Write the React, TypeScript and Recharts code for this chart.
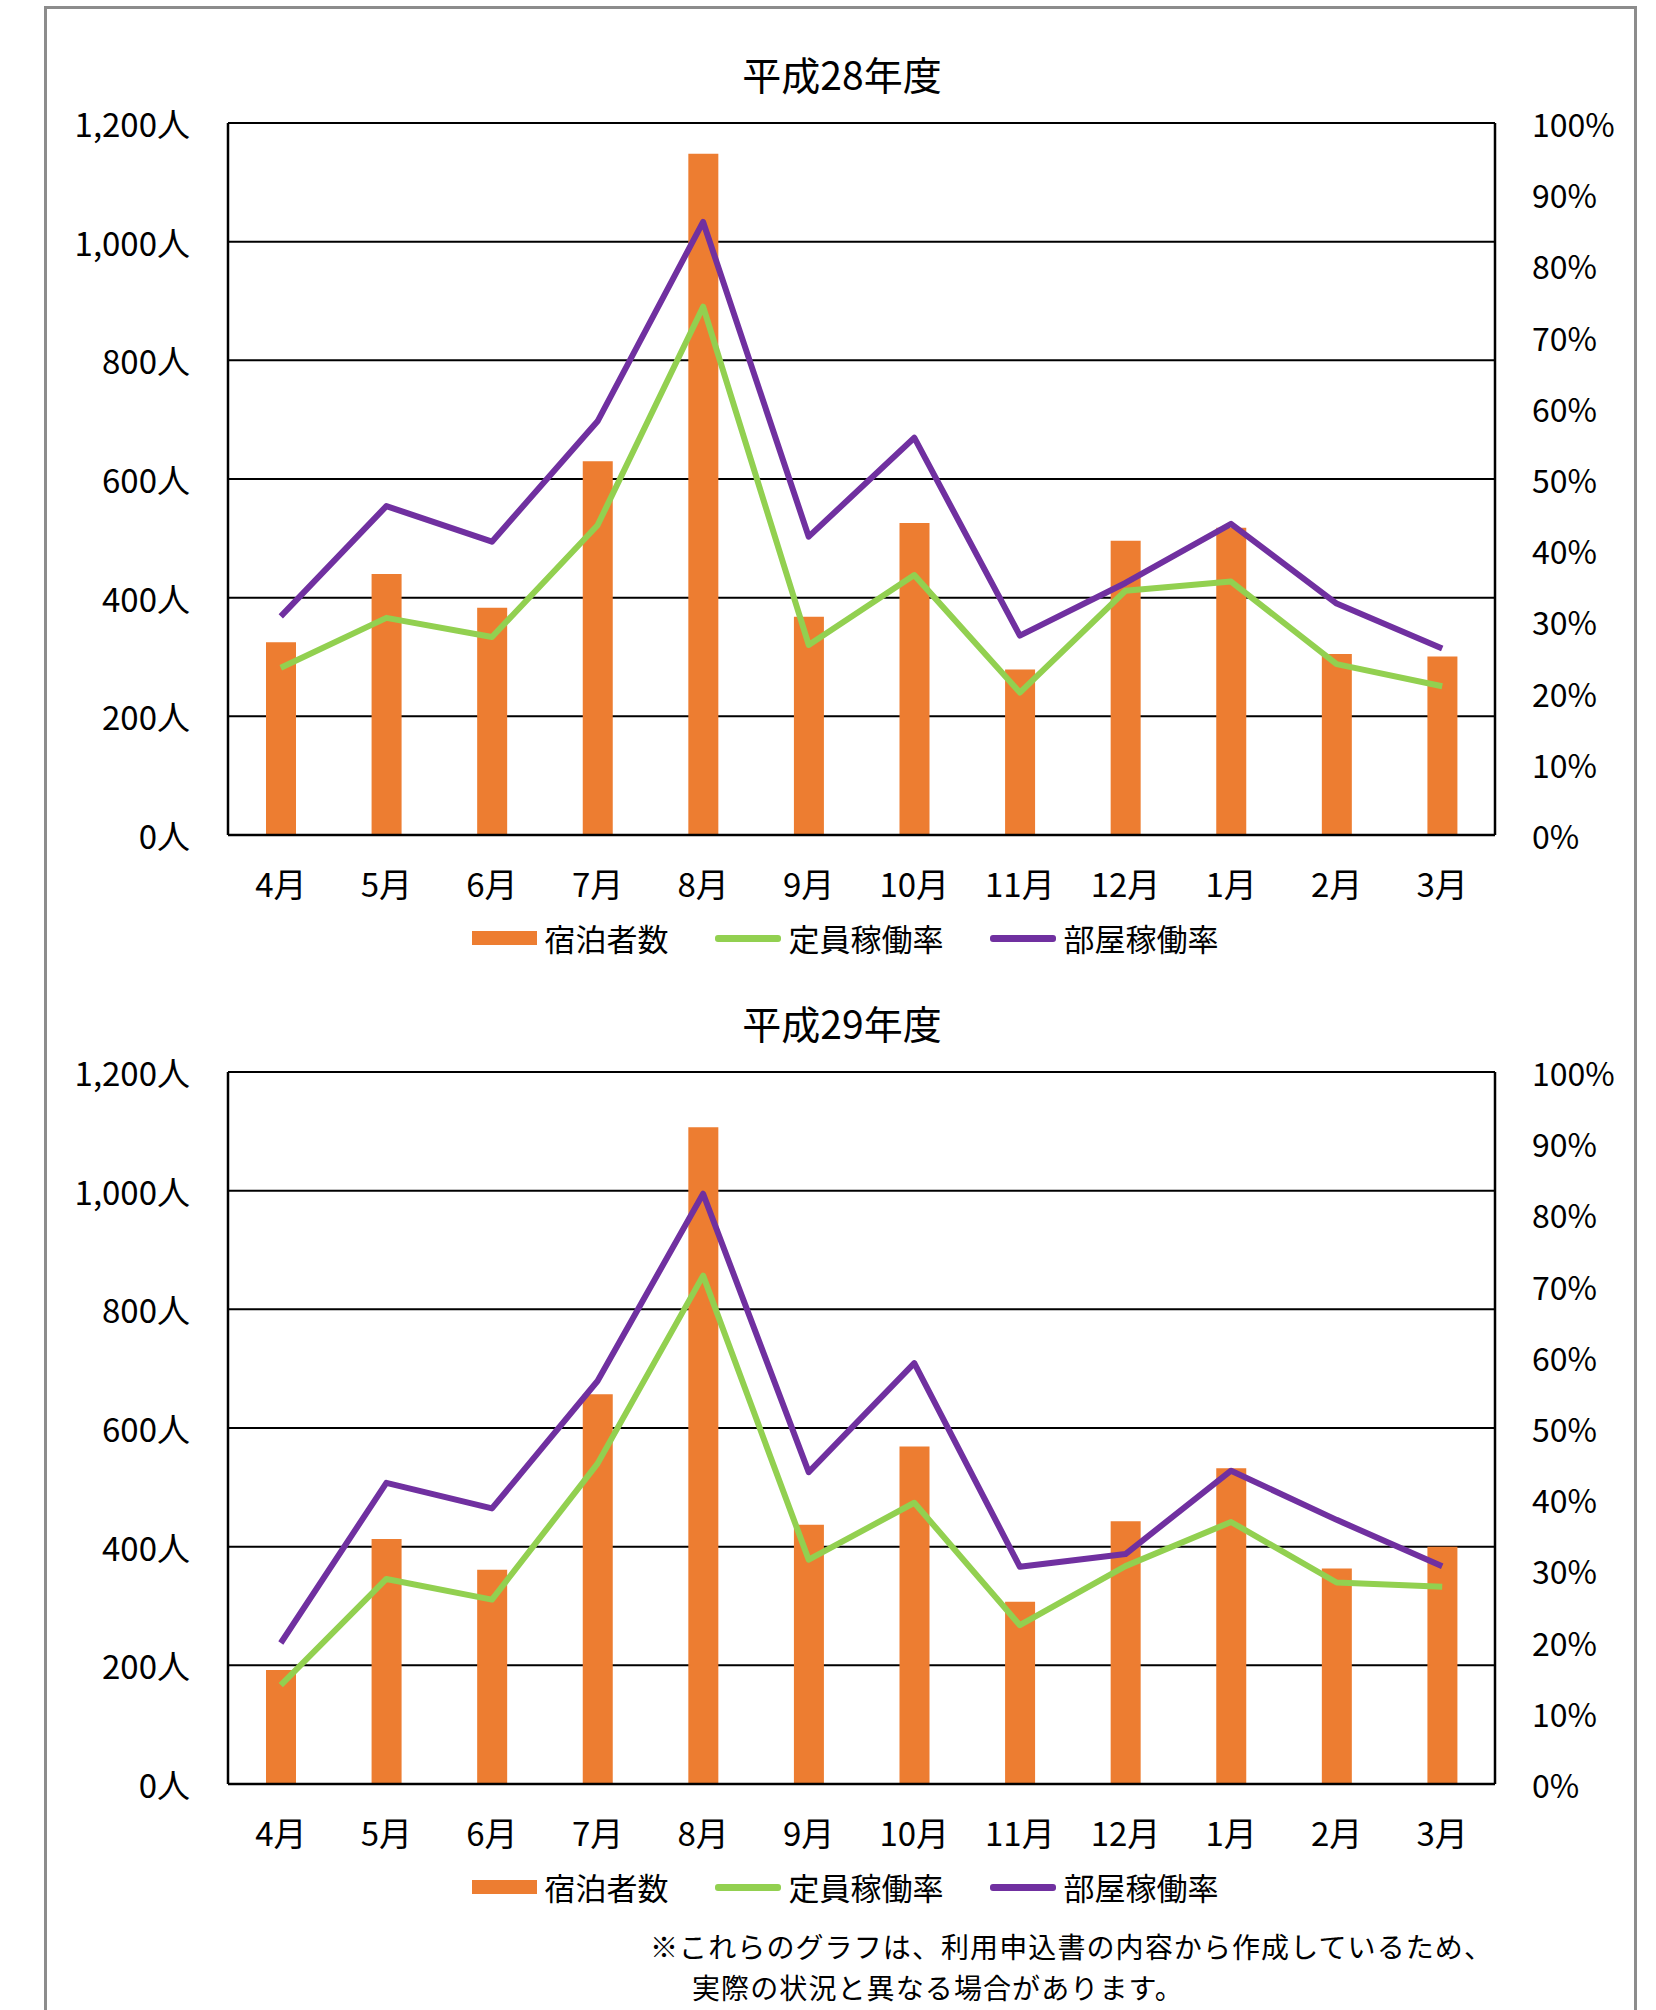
import React from "react";
import {
	ComposedChart,
	Bar,
	Line,
	XAxis,
	YAxis,
	CartesianGrid,
} from "recharts";

const months = ["4月", "5月", "6月", "7月", "8月", "9月", "10月", "11月", "12月", "1月", "2月", "3月"];

// 平成28年度
const h28Guests = [325, 440, 383, 630, 1148, 368, 526, 279, 496, 518, 305, 301];
const h28Capacity = [23.5, 30.5, 27.8, 43.5, 74.2, 26.7, 36.5, 20.0, 34.3, 35.6, 24.0, 20.9];
const h28Room = [30.7, 46.2, 41.2, 58.1, 86.1, 41.9, 55.8, 28.0, 35.4, 43.7, 32.5, 26.2];

// 平成29年度
const h29Guests = [192, 413, 361, 657, 1107, 437, 569, 307, 443, 532, 363, 400];
const h29Capacity = [13.9, 28.8, 25.9, 45.0, 71.4, 31.5, 39.5, 22.3, 30.6, 36.8, 28.3, 27.7];
const h29Room = [19.8, 42.3, 38.7, 56.6, 82.9, 43.8, 59.1, 30.5, 32.3, 44.0, 37.1, 30.6];

const guestTicks = [0, 200, 400, 600, 800, 1000, 1200];
const rateTicks = [0, 10, 20, 30, 40, 50, 60, 70, 80, 90, 100];

const FONT = '"Noto Sans CJK JP", "Noto Sans", sans-serif';
const ORANGE = "#ED7D31";
const GREEN = "#92D050";
const PURPLE = "#7030A0";

const seriesInfo = [
	{ name: "宿泊者数", color: ORANGE, kind: "rect" },
	{ name: "定員稼働率", color: GREEN, kind: "line" },
	{ name: "部屋稼働率", color: PURPLE, kind: "line" },
];

const withComma = (n: number) => String(n).replace(/\B(?=(\d{3})+(?!\d))/g, ",");

const buildRows = (guests: number[], cap: number[], room: number[]) =>
	months.map((m, i) => ({ month: m, guests: guests[i], capacity: cap[i], room: room[i] }));

const LeftTick = (props: any) => (
	<text x={props.x} y={props.y} textAnchor="end" dominantBaseline="central" fontSize={33} fill="#000" fontFamily={FONT}>
		{withComma(props.payload.value)}人
	</text>
);

const RightTick = (props: any) => (
	<text x={props.x} y={props.y} textAnchor="start" dominantBaseline="central" fontSize={32} fill="#000" fontFamily={FONT}>
		{props.payload.value}%
	</text>
);

const BottomTick = (props: any) => (
	<text x={props.x} y={props.y + 48} textAnchor="middle" dominantBaseline="central" fontSize={33} fill="#000" fontFamily={FONT}>
		{props.payload.value}
	</text>
);

const LegendRow = () => (
	<div
		style={{
			position: "absolute",
			left: 0,
			top: 920,
			width: 1690,
			display: "flex",
			justifyContent: "center",
			alignItems: "center",
			gap: 46,
			fontFamily: FONT,
		}}
	>
		{seriesInfo.map((s) => (
			<div key={s.name} style={{ display: "flex", alignItems: "center", gap: 8 }}>
				{s.kind === "rect" ? (
					<div style={{ width: 65, height: 14, background: s.color }} />
				) : (
					<div style={{ width: 66, height: 7, borderRadius: 3, background: s.color }} />
				)}
				<span style={{ fontSize: 31, color: "#000", lineHeight: "36px" }}>{s.name}</span>
			</div>
		))}
	</div>
);

type PanelProps = {
	title: string;
	top: number;
	guests: number[];
	capacity: number[];
	room: number[];
};

const Panel = ({ title, top, guests, capacity, room }: PanelProps) => {
	const rows = buildRows(guests, capacity, room);
	return (
		<div style={{ position: "absolute", left: 0, top, width: 1656, height: 980 }}>
			<div
				style={{
					position: "absolute",
					left: 0,
					top: 50,
					width: 1684,
					textAlign: "center",
					fontSize: 39,
					lineHeight: "46px",
					fontFamily: FONT,
					color: "#000",
				}}
			>
				{title}
			</div>
			<ComposedChart width={1656} height={980} data={rows} margin={{ top: 123, right: 0, bottom: 0, left: 0 }}>
				<CartesianGrid vertical={false} stroke="#000" strokeWidth={2} />
				<XAxis
					dataKey="month"
					height={145}
					tickSize={0}
					tickMargin={0}
					tick={BottomTick}
					axisLine={{ stroke: "#000", strokeWidth: 2.5 }}
					tickLine={false}
				/>
				<YAxis
					domain={[0, 1200]}
					ticks={guestTicks}
					width={228}
					tickSize={0}
					tickMargin={38}
					tick={LeftTick}
					axisLine={{ stroke: "#000", strokeWidth: 2.5 }}
					tickLine={false}
					interval={0}
				/>
				<YAxis
					yAxisId="pct"
					orientation="right"
					domain={[0, 100]}
					ticks={rateTicks}
					width={161}
					tickSize={0}
					tickMargin={37}
					tick={RightTick}
					axisLine={{ stroke: "#000", strokeWidth: 2.5 }}
					tickLine={false}
					interval={0}
				/>
				<Bar dataKey="guests" name={seriesInfo[0].name} fill={ORANGE} barSize={30} isAnimationActive={false} />
				<Line
					dataKey="capacity"
					name={seriesInfo[1].name}
					yAxisId="pct"
					stroke={GREEN}
					strokeWidth={6}
					dot={false}
					type="linear"
					strokeLinejoin="round"
					isAnimationActive={false}
				/>
				<Line
					dataKey="room"
					name={seriesInfo[2].name}
					yAxisId="pct"
					stroke={PURPLE}
					strokeWidth={6}
					dot={false}
					type="linear"
					strokeLinejoin="round"
					isAnimationActive={false}
				/>
			</ComposedChart>
			<LegendRow />
		</div>
	);
};

const noteStyle: React.CSSProperties = {
	position: "absolute",
	fontSize: 28,
	letterSpacing: 1.1,
	lineHeight: "41px",
	fontFamily: FONT,
	color: "#000",
	whiteSpace: "nowrap",
};

const App = () => {
	return (
		<div style={{ position: "absolute", left: 0, top: 0, width: 1656, height: 2010, background: "#fff", overflow: "hidden" }}>
			<div
				style={{
					position: "absolute",
					left: 44,
					top: 6,
					width: 1587,
					height: 2100,
					border: "3px solid #8c8c8c",
					borderBottom: "none",
				}}
			/>
			<Panel title="平成28年度" top={0} guests={h28Guests} capacity={h28Capacity} room={h28Room} />
			<Panel title="平成29年度" top={949} guests={h29Guests} capacity={h29Capacity} room={h29Room} />
			<div style={{ ...noteStyle, left: 650, top: 1926 }}>
				※これらのグラフは、利用申込書の内容から作成しているため、
			</div>
			<div style={{ ...noteStyle, left: 692, top: 1967 }}>
				実際の状況と異なる場合があります。
			</div>
		</div>
	);
};

export default App;
